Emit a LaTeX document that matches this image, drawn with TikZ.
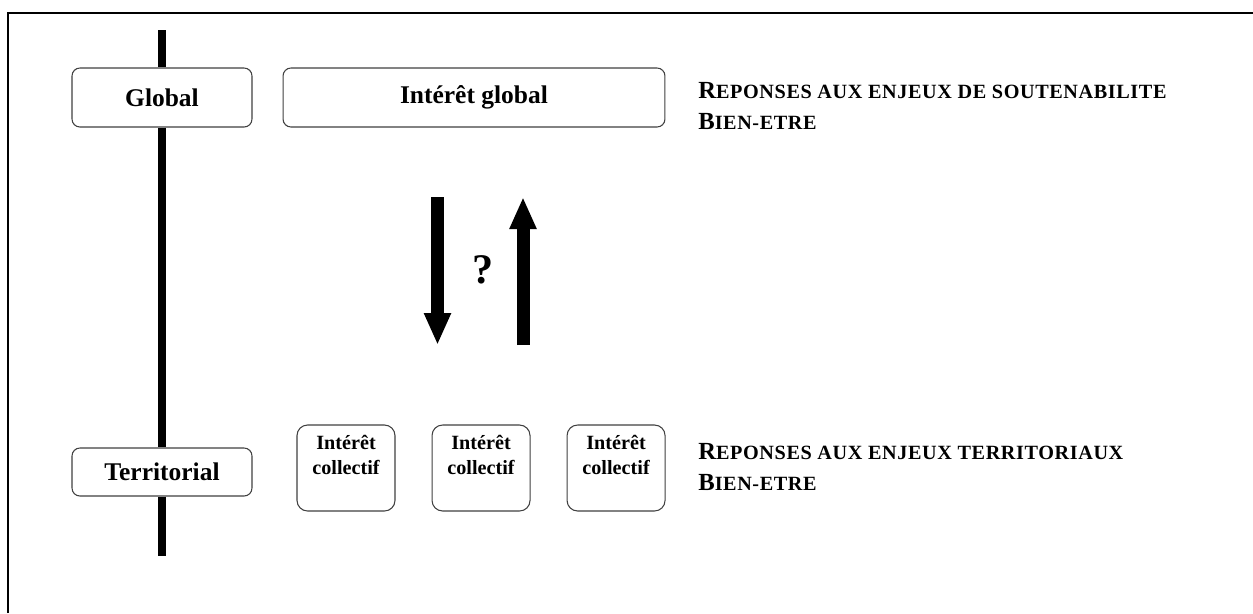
\documentclass[tikz,border=0pt]{standalone}
\usepackage{fontspec}
\setmainfont{Liberation Serif}
\usepackage{tikz}
\usetikzlibrary{arrows.meta,positioning}
\newcommand{\smcap}[1]{{\fontsize{11.5}{12}\selectfont\addfontfeatures{LetterSpace=3}#1}}

\begin{document}
\begin{tikzpicture}[
        x=0.02cm, y=-0.02cm,
        level/.style={rectangle, draw=black!75, fill=white, line width=0.6pt, minimum width=3.6cm, minimum height=1.18cm, align=center, rounded corners=4.5pt, font=\fontsize{14.5}{17}\selectfont\bfseries},
        interest/.style={rectangle, draw=black!75, fill=white, line width=0.6pt, minimum width=1.96cm, minimum height=1.72cm, rounded corners=6pt},
        intlabel/.style={anchor=north, align=center, inner sep=0pt, font=\fontsize{11.5}{14.5}\selectfont\bfseries},
        issue/.style={anchor=north west, align=left, inner sep=0pt, font=\fontsize{14}{17.5}\selectfont\bfseries},
        bigarrow/.style={-{Triangle[width=0.5cm,length=0.64cm]}, line width=0.26cm}
    ]
        \useasboundingbox (0,0) rectangle (1253,613);
        
        % Frame
        \draw[line width=1.1pt] (8,613) -- (8,13) -- (1253,13);
        
        % Levels
        \node[level] (global) at (162,97.5) {Global};
        \node[level, minimum width=7.64cm, right=0.6cm of global] (intglobal) {Intérêt global};
        \node[level, minimum height=0.96cm] (territorial) at (162,472) {Territorial};
        
        % Collective interests
        \node[interest] (coll1) at (346,468) {};
        \node[interest, right=0.72cm of coll1] (coll2) {};
        \node[interest, right=0.72cm of coll2] (coll3) {};
        \node[intlabel] (coll1txt) at ([yshift=-0.2cm]coll1.north) {Intérêt\\collectif};
        \node[intlabel] (coll2txt) at ([yshift=-0.2cm]coll2.north) {Intérêt\\collectif};
        \node[intlabel] (coll3txt) at ([yshift=-0.2cm]coll3.north) {Intérêt\\collectif};
        
        % Issues
        \node[issue] (sustain) at (698,82) {R\smcap{EPONSES AUX ENJEUX DE SOUTENABILITE}\\B\smcap{IEN-ETRE}};
        \node[issue] (local) at (698,443) {R\smcap{EPONSES AUX ENJEUX TERRITORIAUX}\\B\smcap{IEN-ETRE}};
        
        % Axis
        \coordinate (spinetop) at (162,30);
        \coordinate (spinebot) at (162,556);
        \draw[line width=0.16cm] (spinetop) -- (global.north) (global.south) -- (territorial.north) (territorial.south) -- (spinebot);
        
        % Arrows
        \coordinate (downtail) at (437.5,197);
        \coordinate (downtip) at (437.5,345);
        \coordinate (uptail) at (523,345);
        \coordinate (uptip) at (523,197);
        \draw[bigarrow] (downtail) -- (downtip);
        \draw[bigarrow] (uptail) -- (uptip);
        \node[font=\fontsize{24}{24}\selectfont\bfseries] (query) at (483,270) {?};
        
    \end{tikzpicture}
\end{document}
